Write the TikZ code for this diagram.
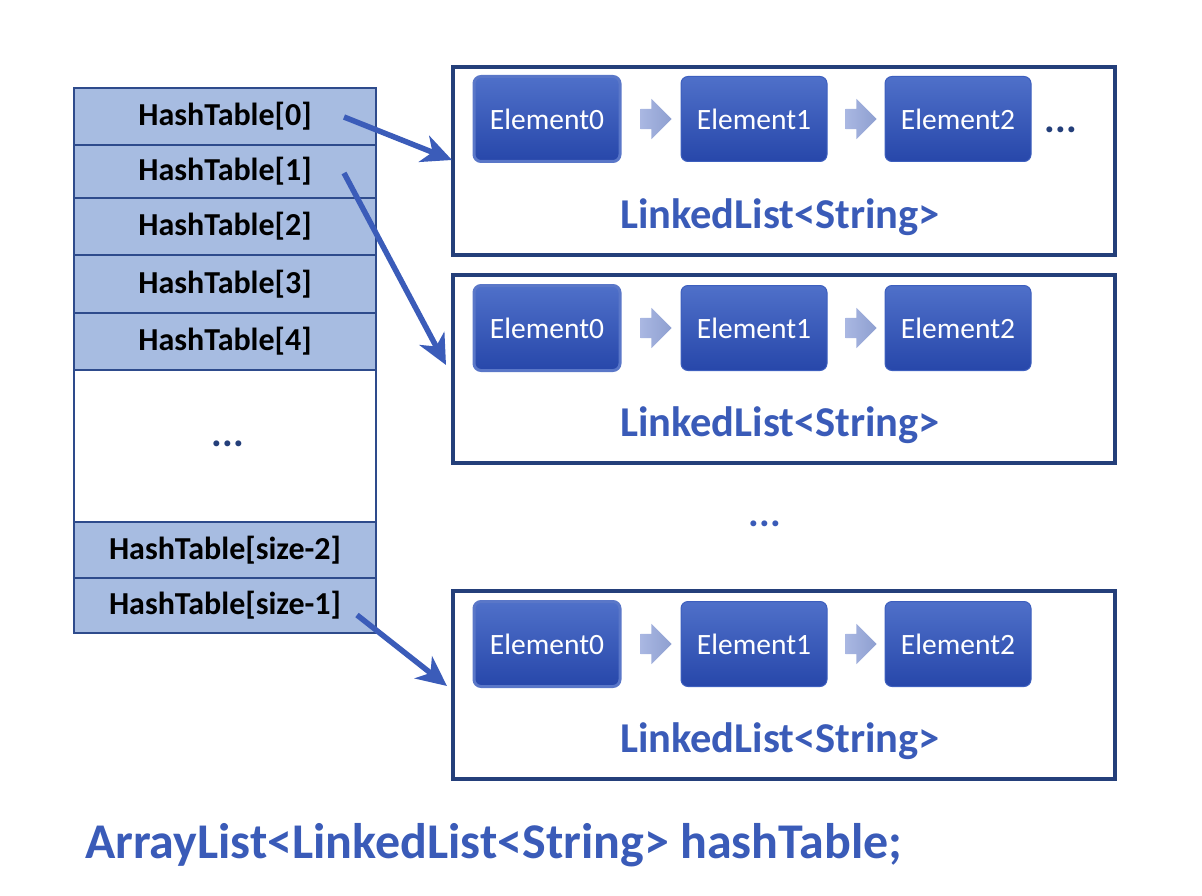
\documentclass[tikz,border=0pt]{standalone}
\usepackage{fontspec}
\setmainfont{Carlito}
\usetikzlibrary{arrows.meta,shapes.arrows,calc}
\definecolor{cellfill}{HTML}{A7BCE1}
\definecolor{cellline}{HTML}{2E4B8C}
\definecolor{boxline}{HTML}{243F7A}
\definecolor{elemtop}{HTML}{4F70C9}
\definecolor{elembot}{HTML}{2747AA}
\definecolor{elemedge}{HTML}{3D5FBE}
\definecolor{txtblue}{HTML}{3A5BB8}
\definecolor{arrowblue}{HTML}{3B5CB9}
\definecolor{chevl}{HTML}{A9B7E2}
\definecolor{chevr}{HTML}{8E9FD0}
\tikzset{
  cell/.style={draw=cellline, line width=2pt, fill=cellfill, minimum width=302pt, inner sep=0pt, anchor=north, font=\bfseries\fontsize{32}{36}\selectfont, text=black},
  blank/.style={draw=cellline, line width=2pt, fill=white, minimum width=302pt, inner sep=0pt, anchor=north},
  listbox/.style={draw=boxline, line width=4pt, minimum width=662pt, minimum height=188pt, inner sep=0pt},
  elem/.style={rounded corners=7pt, top color=elemtop, bottom color=elembot, draw=elemedge, line width=1pt, minimum width=146pt, minimum height=85pt, inner sep=0pt, text=white, font=\fontsize{29.5}{33}\selectfont},
  firstelem/.style={elem, draw=elemedge!85!white, line width=3pt},
  chev/.style={single arrow, shape border rotate=0, left color=chevl, right color=chevr, draw=none, minimum height=31pt, inner xsep=0pt, inner ysep=10pt, single arrow head extend=10pt, single arrow tip angle=90},
  lltext/.style={text=txtblue, font=\bfseries\fontsize{42.5}{48}\selectfont},
  dots/.style={font=\bfseries\fontsize{40}{44}\selectfont},
  conn/.style={draw=arrowblue, line width=5.5pt, -{Stealth[length=30pt, width=28pt, inset=9pt]}},
}
\begin{document}
\begin{tikzpicture}[x=1pt, y=-1pt]
\useasboundingbox (0,0) rectangle (1202,896);
% table
\node[cell, minimum height=57pt] (h0) at (225,87) {HashTable[0]};
\node[cell, minimum height=53pt] (h1) at (225,144) {HashTable[1]};
\node[cell, minimum height=57pt] (h2) at (225,197) {HashTable[2]};
\node[cell, minimum height=58pt] (h3) at (225,254) {HashTable[3]};
\node[cell, minimum height=57pt] (h4) at (225,312) {HashTable[4]};
\node[blank, minimum height=152pt] (hd) at (225,369) {};
\node[dots, text=boxline] (hdots) at (228,444) {...};
\node[cell, minimum height=56pt] (hs2) at (225,521) {HashTable[size-2]};
\node[cell, minimum height=55pt] (hs1) at (225,577) {HashTable[size-1]};
% list boxes
\node[listbox] (L1) at (784,161) {};
\node[listbox] (L2) at (784,369) {};
\node[listbox] (L3) at (784,685) {};
% list 1
\node[firstelem] (a0) at (547,119) {Element0};
\node[elem] (a1) at (754,119) {Element1};
\node[elem] (a2) at (958,119) {Element2};
\node[chev] (ac1) at (651,119) {};
\node[chev] (ac2) at (856,119) {};
\node[dots, text=boxline] (adots) at (1061,130) {...};
\node[lltext] (at) at (780,217) {LinkedList<String>};
% list 2
\node[firstelem] (b0) at (547,328) {Element0};
\node[elem] (b1) at (754,328) {Element1};
\node[elem] (b2) at (958,328) {Element2};
\node[chev] (bc1) at (651,328) {};
\node[chev] (bc2) at (856,328) {};
\node[lltext] (bt) at (780,425) {LinkedList<String>};
% middle dots
\node[dots, text=txtblue] (mdots) at (765,524) {...};
% list 3
\node[firstelem] (c0) at (547,644) {Element0};
\node[elem] (c1) at (754,644) {Element1};
\node[elem] (c2) at (958,644) {Element2};
\node[chev] (cc1) at (651,644) {};
\node[chev] (cc2) at (856,644) {};
\node[lltext] (ct) at (780,741) {LinkedList<String>};
% connectors
\coordinate (s0) at (344,117);
\coordinate (e0) at (452,160);
\coordinate (s1) at (344,173);
\coordinate (e1) at (446,365);
\coordinate (s2) at (357,615);
\coordinate (e2) at (447,686);
\draw[conn] (s0) -- (e0);
\draw[conn] (s1) -- (e1);
\draw[conn] (s2) -- (e2);
% bottom
\node[anchor=west, inner sep=0pt, text=txtblue, font=\bfseries\fontsize{50}{56}\selectfont] (decl) at (85,845) {ArrayList<LinkedList<String> hashTable;};
\end{tikzpicture}
\end{document}
